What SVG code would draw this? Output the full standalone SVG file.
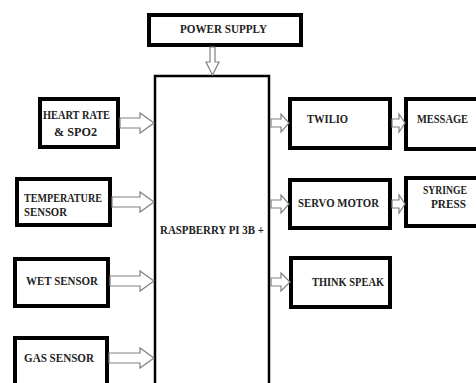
<svg xmlns="http://www.w3.org/2000/svg" width="476" height="383" viewBox="0 0 476 383">
<style>
.box{fill:#fff;stroke:#000;stroke-width:4}
.main{fill:#fff;stroke:#000;stroke-width:2.5}
.arr{fill:#fff;stroke:#808080;stroke-width:1.2;stroke-linejoin:miter}
text{font-family:"Liberation Serif","Times New Roman",serif;font-weight:bold;font-size:12px;fill:#222;text-anchor:start}
</style>
<rect width="476" height="383" fill="#fff"/>
<g id="raspberry"><rect class="main" x="155" y="76" width="114" height="320"/><text x="160" y="234" textLength="104" lengthAdjust="spacingAndGlyphs">RASPBERRY PI 3B +</text></g>
<g id="power"><rect class="box" x="149" y="15" width="152" height="30"/><text x="180" y="32.5" textLength="87" lengthAdjust="spacingAndGlyphs">POWER SUPPLY</text></g>
<g id="heart"><rect class="box" x="40" y="99" width="78" height="48"/><text x="43" y="119" textLength="67" lengthAdjust="spacingAndGlyphs">HEART RATE</text><text x="54" y="136" textLength="43" lengthAdjust="spacingAndGlyphs">&amp; SPO2</text></g>
<g id="temperature"><rect class="box" x="17" y="179" width="93" height="46"/><text x="24" y="202" textLength="78" lengthAdjust="spacingAndGlyphs">TEMPERATURE</text><text x="24" y="216" textLength="43" lengthAdjust="spacingAndGlyphs">SENSOR</text></g>
<g id="wet"><rect class="box" x="15" y="259" width="93" height="47"/><text x="26" y="285" textLength="72" lengthAdjust="spacingAndGlyphs">WET SENSOR</text></g>
<g id="gas"><rect class="box" x="15" y="338" width="92" height="60"/><text x="24" y="362" textLength="70" lengthAdjust="spacingAndGlyphs">GAS SENSOR</text></g>
<g id="twilio"><rect class="box" x="290" y="99" width="100" height="49"/><text x="307" y="123" textLength="41" lengthAdjust="spacingAndGlyphs">TWILIO</text></g>
<g id="message"><rect class="box" x="406" y="99" width="90" height="50"/><text x="417" y="123" textLength="51" lengthAdjust="spacingAndGlyphs">MESSAGE</text></g>
<g id="servo"><rect class="box" x="290" y="180" width="100" height="48"/><text x="298" y="207" textLength="81" lengthAdjust="spacingAndGlyphs">SERVO MOTOR</text></g>
<g id="syringe"><rect class="box" x="406" y="178" width="90" height="48"/><text x="423" y="194" textLength="44" lengthAdjust="spacingAndGlyphs">SYRINGE</text><text x="431" y="208" textLength="35" lengthAdjust="spacingAndGlyphs">PRESS</text></g>
<g id="thinkspeak"><rect class="box" x="291" y="258" width="99" height="49"/><text x="312" y="286" textLength="72" lengthAdjust="spacingAndGlyphs">THINK SPEAK</text></g>
<g id="connectors">
<polygon class="arr" points="210,47 215,47 215,62 219,62 212.5,75 206,62 210,62"/>
<polygon class="arr" points="120,118 140,118 140,113 154,123 140,133 140,128 120,128"/>
<polygon class="arr" points="112,197 140,197 140,192 154,202 140,212 140,207 112,207"/>
<polygon class="arr" points="110,276 140,276 140,271 154,281 140,291 140,286 110,286"/>
<polygon class="arr" points="109,353 140,353 140,348 154,358 140,368 140,363 109,363"/>
<polygon class="arr" points="271,119 281,119 281,114 289,123 281,132 281,127 271,127"/>
<polygon class="arr" points="271,200 281,200 281,195 289,204 281,213 281,208 271,208"/>
<polygon class="arr" points="271,278 281,278 281,273 290,282 281,291 281,286 271,286"/>
<polygon class="arr" points="392,119 399,119 399,114 405,123 399,132 399,127 392,127"/>
<polygon class="arr" points="392,200 399,200 399,195 405,204 399,213 399,208 392,208"/>
</g>
</svg>
